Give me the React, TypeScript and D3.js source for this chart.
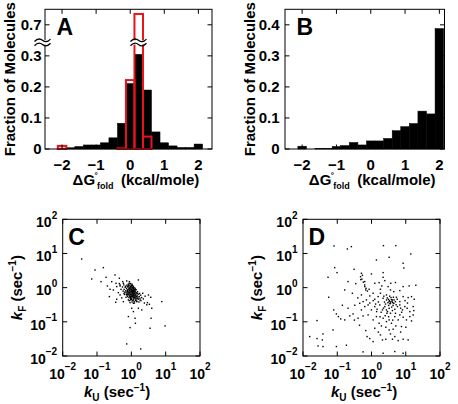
import React from "react";
import * as d3 from "d3";

// ---------- DATA ----------
const binCenters = [-2, -1.75, -1.5, -1.25, -1, -0.75, -0.5, -0.25, 0, 0.25, 0.5, 0.75, 1, 1.25, 1.5, 1.75, 2];
const binHalf = 0.125;
const fracA_all = [0.003, 0.004, 0.008, 0.013, 0.013, 0.02, 0.036, 0.083, 0.211, 0.305, 0.19, 0.055, 0.02, 0.01, 0.005, 0.005, 0.016];
const fracA_red = [0.01, 0, 0, 0, 0, 0, 0, 0.002, 0.222, 0.735, 0.04, 0, 0, 0, 0, 0, 0];
const fracB = [0.009, 0, 0.002, 0.002, 0.008, 0.011, 0.021, 0.013, 0.026, 0.026, 0.034, 0.059, 0.072, 0.082, 0.122, 0.113, 0.388];
const histXTicks = [-2, -1, 0, 1, 2];
const yTicksA = [0, 0.1, 0.2, 0.3, 0.7];
const yTicksALabels = ["0", "0.1", "0.2", "0.3", "0.7"];
const yTicksB = [0, 0.1, 0.2, 0.3, 0.4];
const yTicksBLabels = ["0", "0.1", "0.2", "0.3", "0.4"];
const logTickExps = [-2, -1, 0, 1, 2];

// scatter points: [log10 kU, log10 kF]
const pointsC: [number, number][] = [
  [-1.447, 0.839], [-1.058, 0.517], [-0.815, 0.585], [-1.155, 0.254], [-0.737, 0.303], [-0.883, 0.176],
  [-0.475, 0.371], [-0.572, 0.176], [-0.349, 0.274], [-0.252, 0.176], [-0.446, 0.127], [-0.135, 0.196],
  [-0.057, 0.176], [0.205, 0.225], [-0.698, 0.049], [-0.621, -0.048], [-0.524, -0.068], [-0.426, 0.03],
  [-0.329, 0.079], [-0.232, 0.127], [-0.64, -0.262], [-0.378, -0.146], [-0.329, -0.214], [-0.426, -0.34],
  [-0.456, -0.428], [-0.232, -0.409], [-0.213, -0.165], [-0.154, -0.282], [-0.086, -0.36], [-0.038, -0.438],
  [0.06, -0.457], [0.157, -0.409], [0.254, -0.36], [0.332, -0.165], [0.497, -0.214], [0.565, -0.282],
  [0.468, -0.438], [0.526, -0.487], [0.594, -0.603], [0.886, -0.409], [0.983, -1.12], [0.575, -0.896],
  [0.545, -1.188], [0.108, -0.896], [0.118, -1.042], [-0.038, -1.169], [-0.086, -0.847], [0.011, -0.603],
  [0.06, -0.701], [0.205, -0.603], [0.303, -0.652], [-0.135, -1.647], [0.273, -1.793], [-0.329, 0.049],
  [-0.12, 0.02], [-0.08, 0.05], [-0.05, -0.02], [-0.02, 0.04], [0.01, -0.05], [0.04, 0.01], [0.07, -0.08],
  [-0.1, -0.06], [-0.06, -0.1], [-0.03, -0.13], [0.0, -0.09], [0.03, -0.15], [0.06, -0.12], [0.09, -0.18],
  [-0.14, -0.03], [-0.11, -0.12], [-0.07, -0.16], [-0.04, -0.2], [-0.01, -0.17], [0.02, -0.22], [0.05, -0.19],
  [0.08, -0.25], [0.11, -0.21], [0.13, -0.28], [-0.09, -0.21], [-0.05, -0.25], [-0.02, -0.28], [0.01, -0.31],
  [0.04, -0.27], [0.07, -0.33], [0.1, -0.3], [0.14, -0.36], [-0.16, -0.09], [-0.18, 0.01], [-0.13, 0.07],
  [-0.09, 0.1], [-0.04, 0.08], [0.0, 0.03], [0.03, 0.06], [0.06, -0.03], [0.09, -0.05], [0.12, -0.1],
  [0.15, -0.15], [0.17, -0.22], [0.19, -0.27], [0.16, -0.31], [0.12, -0.38], [0.08, -0.41], [0.04, -0.37],
  [0.0, -0.35], [-0.03, -0.32], [-0.07, -0.29], [-0.11, -0.26], [-0.15, -0.19], [-0.19, -0.13], [-0.21, -0.05],
  [-0.17, 0.04], [-0.02, 0.12], [0.02, 0.1], [-0.06, 0.13], [0.05, -0.01], [0.08, -0.14], [-0.01, -0.07],
  [-0.03, -0.04], [0.02, -0.11], [0.05, -0.06], [-0.08, -0.01], [-0.12, -0.16], [0.1, -0.24], [0.06, -0.29],
  [-0.04, -0.23], [0.13, -0.19], [0.18, -0.12], [0.21, -0.19], [0.23, -0.26], [0.2, -0.34], [0.25, -0.31],
  [0.27, -0.22], [-0.24, -0.1], [-0.2, -0.2], [-0.26, 0.02], [-0.22, 0.08], [0.11, -0.02], [0.14, -0.06],
  [0.16, -0.4], [0.09, -0.45], [0.02, -0.42], [-0.06, -0.38], [0.22, -0.42], [0.28, -0.38], [0.3, -0.29],
  [-0.01, 0.0], [0.0, -0.13], [-0.05, -0.08], [0.03, -0.18], [0.07, -0.21], [0.04, -0.24], [-0.09, -0.13],
  [0.1, -0.12], [-0.13, -0.22], [0.01, -0.26], [-0.1, 0.04], [0.06, 0.04], [-0.07, -0.05], [0.12, -0.33],
  [0.15, -0.26], [-0.02, -0.2], [0.08, -0.08],
  [-0.06, -0.15], [-0.01, -0.11], [0.03, -0.09], [0.07, -0.17], [0.11, -0.15], [-0.08, -0.19], [-0.03, -0.27],
  [0.02, -0.02], [0.05, -0.23], [0.09, -0.28], [-0.11, -0.08], [-0.04, 0.01], [0.0, -0.21], [0.04, -0.12],
  [0.08, 0.0], [-0.15, -0.13], [0.13, -0.24], [0.17, -0.17], [-0.02, -0.36], [0.06, -0.36], [0.19, -0.31],
  [-0.07, 0.06], [0.01, 0.07], [0.11, -0.06], [-0.12, -0.2], [0.24, -0.17], [0.35, -0.33], [0.4, -0.25],
  [0.38, -0.45], [-0.3, -0.05], [-0.35, 0.12], [0.45, -0.5], [-0.28, -0.3],
];

const pointsD: [number, number][] = [
  [-1.094, 1.22], [-0.704, 1.132], [-0.587, 1.2], [0.349, 1.229], [0.71, 1.229], [1.148, 0.986],
  [0.144, 0.81], [0.515, 0.888], [0.924, 0.713], [0.943, 0.576], [-1.074, 0.586], [-1.006, 0.44],
  [-0.509, 0.537], [-0.294, 0.42], [-0.265, 0.362], [-0.002, 0.401], [0.339, 0.44], [0.339, 0.303],
  [-1.269, 0.303], [-0.684, 0.177], [-0.46, 0.118], [-0.314, 0.235], [-0.197, 0.177], [-0.197, 0.031],
  [-0.168, -0.067], [-0.07, -0.047], [0.096, 0.128], [0.222, 0.147], [0.261, -0.047], [0.388, 0.206],
  [0.485, 0.031], [0.563, 0.128], [0.554, -0.067], [0.651, -0.116], [0.827, -0.086], [0.924, 0.031],
  [1.099, 0.05], [1.294, 0.07], [-0.782, -0.067], [-0.558, -0.164], [-1.25, -0.281], [-0.294, -0.213],
  [-0.246, -0.408], [-0.148, -0.359], [-0.051, -0.242], [0.047, -0.164], [0.096, -0.34], [0.193, -0.262],
  [0.261, -0.164], [0.339, -0.311], [0.437, -0.213], [0.495, -0.34], [0.515, -0.408], [0.554, -0.457],
  [0.612, -0.359], [0.651, -0.457], [0.729, -0.281], [0.827, -0.408], [0.924, -0.262], [1.07, -0.291],
  [1.168, -0.262], [1.246, -0.34], [-0.85, -0.515], [-0.684, -0.603], [-0.489, -0.515], [-0.343, -0.457],
  [-0.294, -0.652], [-0.197, -0.554], [-0.099, -0.506], [-0.002, -0.652], [0.096, -0.554], [0.164, -0.632],
  [0.242, -0.506], [0.32, -0.652], [0.388, -0.554], [0.437, -0.652], [0.466, -0.701], [0.515, -0.603],
  [0.554, -0.749], [0.612, -0.671], [0.68, -0.632], [0.758, -0.554], [0.827, -0.506], [0.904, -0.652],
  [0.973, -0.554], [1.041, -0.603], [1.119, -0.701], [1.216, -0.554], [1.236, -0.671], [-1.103, -0.652],
  [-1.025, -0.769], [-0.967, -0.847], [-0.899, -0.915], [-0.782, -0.944], [-1.591, -0.964], [-0.635, -0.827],
  [-0.538, -0.769], [-0.392, -0.895], [-0.246, -0.827], [-0.099, -0.798], [0.047, -0.944], [0.144, -0.847],
  [0.222, -1.042], [0.339, -0.895], [0.437, -0.993], [0.515, -0.944], [0.583, -1.042], [0.68, -0.847],
  [0.778, -0.944], [0.827, -0.798], [0.924, -0.866], [1.021, -0.944], [1.119, -0.847], [1.168, -0.973],
  [1.216, -0.798], [0.096, -1.188], [0.29, -1.12], [0.417, -1.159], [0.515, -1.237], [0.632, -1.217],
  [0.71, -1.12], [0.875, -1.139], [1.002, -1.159], [-1.123, -1.237], [-1.415, -1.354], [0.261, -1.383],
  [0.554, -1.354], [0.68, -1.432], [-0.168, -1.256], [-0.129, -1.432], [-0.051, -1.49], [0.047, -1.578],
  [0.32, -1.529], [0.417, -1.51], [0.612, -1.51], [0.778, -1.549], [0.924, -1.51], [1.07, -1.529],
  [-1.805, -1.432], [-1.591, -1.49], [-1.435, -1.529], [-0.733, -1.685], [-0.246, -1.88], [0.339, -1.919],
  [0.68, -1.87], [0.924, -1.919], [-1.561, -1.705], [-1.415, -1.724], [-1.025, -1.724],
  [0.52, -0.38], [0.56, -0.42], [0.6, -0.4], [0.54, -0.47], [0.58, -0.35], [0.62, -0.44],
  [-0.32, 0.32], [-0.28, 0.25], [-0.24, 0.16], [-0.2, 0.08], [-0.16, -0.02], [-0.12, -0.1],
  [0.35, -0.6], [0.45, -0.75], [0.5, -0.85], [0.28, -0.72], [0.4, -0.82],
  [0.46, -0.3], [0.5, -0.52], [0.57, -0.29], [0.63, -0.52], [0.66, -0.36], [0.48, -0.44], [0.44, -0.36],
  [0.7, -0.41], [0.53, -0.25], [0.59, -0.57], [0.38, -0.42], [0.72, -0.5], [0.41, -0.48], [0.64, -0.28],
  [0.75, -0.34], [0.36, -0.25], [0.85, -0.6], [0.2, -0.42], [0.12, -0.48], [0.05, -0.38], [-0.05, -0.45],
  [0.25, -0.85], [0.62, -0.95], [0.88, -0.72], [1.05, -0.45], [0.98, -0.38], [0.15, -0.7], [0.7, -0.75],
  [-0.4, -0.3], [-0.5, -0.95], [0.3, 0.05], [0.7, 0.15], [-0.35, -1.1], [0.2, -1.3], [0.85, -1.3],
];

// ---------- LAYOUT ----------
const FONT = "'Liberation Sans', Arial, Helvetica, sans-serif";
const TICK = 4.5;

const histTop = 9.3;
const histBottom = 149;
const xA = d3.scaleLinear().domain([-2.5, 2.4]).range([45, 212]);
const xB = d3.scaleLinear().domain([-2.5, 2.15]).range([285, 444.5]);
const yLow = d3.scaleLinear().domain([0, 0.45]).range([histBottom, histTop]);
const yHighA = d3.scaleLinear().domain([0.7, 0.75]).range([24.8, histTop]);
const yA = (v: number) => (v < 0.5 ? yLow(v) : yHighA(v));

const scTop = 219.3;
const scBottom = 356;
const xC = d3.scaleLog().domain([0.01, 100]).range([62.7, 200]);
const xD = d3.scaleLog().domain([0.01, 100]).range([303, 440]);
const yS = d3.scaleLog().domain([0.01, 100]).range([scBottom, scTop]);

const minus = (n: number) => (n < 0 ? "\u2212" + Math.abs(n) : String(n));

function wave(x: number, y: number, w: number) {
  return `M${x},${y + 1.2} Q${x + w / 4},${y - 3.2} ${x + w / 2},${y} Q${x + (3 * w) / 4},${y + 3.2} ${x + w},${y - 1.2}`;
}

function Frame({ x0, x1, y0, y1 }: { x0: number; x1: number; y0: number; y1: number }) {
  return <rect x={x0} y={y0} width={x1 - x0} height={y1 - y0} fill="none" stroke="#000" strokeWidth={1} />;
}

function HistXLabel({ start, y }: { start: number; y: number }) {
  return (
    <g fontFamily={FONT} fontWeight="bold" fill="#000">
      <text x={start} y={y} fontSize={15}>Δ</text>
      <text x={start + 11} y={y} fontSize={15}>G</text>
      <text x={start + 22} y={y - 7} fontSize={8}>°</text>
      <text x={start + 24.5} y={y + 4} fontSize={9}>fold</text>
      <text x={start + 48.5} y={y} fontSize={15}>(kcal/mole)</text>
    </g>
  );
}

function RateLabel({ sub }: { sub: string }) {
  return (
    <>
      <tspan fontStyle="italic" fontSize={15}>k</tspan>
      <tspan fontSize={10} dy={4}>{sub}</tspan>
      <tspan fontSize={15} dy={-4}>{" (sec"}</tspan>
      <tspan fontSize={10} dy={-6}>{"\u22121"}</tspan>
      <tspan fontSize={15} dy={6}>)</tspan>
    </>
  );
}

function HistPanel({ which }: { which: "A" | "B" }) {
  const x = which === "A" ? xA : xB;
  const y = which === "A" ? yA : yLow;
  const vals = which === "A" ? fracA_all : fracB;
  const ticks = which === "A" ? yTicksA : yTicksB;
  const tickLabels = which === "A" ? yTicksALabels : yTicksBLabels;
  const [x0, x1] = x.range();
  const labelRight = which === "A" ? x0 - 3.5 : x0 - 5.5;
  const cx = (x0 + x1) / 2;
  return (
    <g>
      {binCenters.map((c, i) =>
        vals[i] > 0 ? (
          <rect
            key={i}
            x={x(c - binHalf)}
            y={y(vals[i])}
            width={x(c + binHalf) - x(c - binHalf)}
            height={y(0) - y(vals[i])}
            fill="#000"
            stroke="#000"
            strokeWidth={0.5}
          />
        ) : null
      )}
      {which === "A" &&
        binCenters.map((c, i) => (
          <rect
            key={"r" + i}
            x={x(c - binHalf)}
            y={yA(fracA_red[i])}
            width={x(c + binHalf) - x(c - binHalf)}
            height={yA(0) - yA(fracA_red[i])}
            fill="none"
            stroke="#e8141c"
            strokeWidth={2}
          />
        ))}
      <Frame x0={x0} x1={x1} y0={histTop} y1={histBottom} />
      {histXTicks.map((t) => (
        <g key={t}>
          <line x1={x(t)} x2={x(t)} y1={histBottom} y2={histBottom - TICK} stroke="#000" />
          <line x1={x(t)} x2={x(t)} y1={histTop} y2={histTop + TICK} stroke="#000" />
          <text x={x(t)} y={169.5} textAnchor="middle" fontFamily={FONT} fontWeight="bold" fontSize={15}>
            {minus(t)}
          </text>
        </g>
      ))}
      {ticks.map((t, i) => (
        <g key={t}>
          <line x1={x0} x2={x0 + TICK} y1={y(t)} y2={y(t)} stroke="#000" />
          <line x1={x1} x2={x1 - TICK} y1={y(t)} y2={y(t)} stroke="#000" />
          <text x={labelRight} y={y(t) + 5.4} textAnchor="end" fontFamily={FONT} fontWeight="bold" fontSize={15}>
            {tickLabels[i]}
          </text>
        </g>
      ))}
      {which === "A" && (
        <g>
          <rect x={34} y={40.3} width={18} height={4.2} fill="#fff" />
          <path d={wave(34.5, 40.3, 16)} fill="none" stroke="#000" strokeWidth={1.3} />
          <path d={wave(34.5, 44.5, 16)} fill="none" stroke="#000" strokeWidth={1.3} />
          <rect x={x(0.125) - 3} y={40.3} width={x(0.375) - x(0.125) + 6} height={4.2} fill="#fff" />
          <path d={wave(x(0.125) - 4, 40.3, 16)} fill="none" stroke="#000" strokeWidth={1.3} />
          <path d={wave(x(0.125) - 4, 44.5, 16)} fill="none" stroke="#000" strokeWidth={1.3} />
        </g>
      )}
      <text x={x0 + 11.5} y={35} fontFamily={FONT} fontWeight="bold" fontSize={23}>
        {which}
      </text>
      <text
        transform={`translate(${x0 - 30},${(histTop + histBottom) / 2}) rotate(-90)`}
        textAnchor="middle"
        fontFamily={FONT}
        fontWeight="bold"
        fontSize={15}
      >
        Fraction of Molecules
      </text>
      <HistXLabel start={cx + 9 - 65} y={185} />
    </g>
  );
}

function ScatterPanel({ which }: { which: "C" | "D" }) {
  const x = which === "C" ? xC : xD;
  const pts = which === "C" ? pointsC : pointsD;
  const [x0, x1] = x.range();
  const xLabelStart = which === "C" ? 84 : 331;
  return (
    <g>
      {pts.map(([lu, lf], i) => (
        <rect key={i} x={x(Math.pow(10, lu)) - 0.7} y={yS(Math.pow(10, lf)) - 0.7} width={1.4} height={1.4} fill="#000" />
      ))}
      <Frame x0={x0} x1={x1} y0={scTop} y1={scBottom} />
      {logTickExps.map((e) => {
        const v = Math.pow(10, e);
        return (
          <g key={e}>
            <line x1={x(v)} x2={x(v)} y1={scBottom} y2={scBottom - TICK} stroke="#000" />
            <line x1={x(v)} x2={x(v)} y1={scTop} y2={scTop + TICK} stroke="#000" />
            <line x1={x0} x2={x0 + TICK} y1={yS(v)} y2={yS(v)} stroke="#000" />
            <line x1={x1} x2={x1 - TICK} y1={yS(v)} y2={yS(v)} stroke="#000" />
            <text x={x(v)} y={378.5} textAnchor="middle" fontFamily={FONT} fontWeight="bold" fontSize={14}>
              10<tspan fontSize={10} dy={-8.5}>{minus(e)}</tspan>
            </text>
            <text x={x0 - 5.5} y={yS(v) + 7.7} textAnchor="end" fontFamily={FONT} fontWeight="bold" fontSize={14}>
              10<tspan fontSize={10} dy={-8.5}>{minus(e)}</tspan>
            </text>
          </g>
        );
      })}
      <text x={x0 + 5.5} y={245} fontFamily={FONT} fontWeight="bold" fontSize={23}>
        {which}
      </text>
      <text
        transform={`translate(${x0 - 41},${(scTop + scBottom) / 2}) rotate(-90)`}
        textAnchor="middle"
        fontFamily={FONT}
        fontWeight="bold"
      >
        <RateLabel sub="F" />
      </text>
      <text x={xLabelStart} y={397} fontFamily={FONT} fontWeight="bold">
        <RateLabel sub="U" />
      </text>
    </g>
  );
}

export default function App() {
  return (
    <svg
      width={458}
      height={404}
      viewBox="0 0 458 404"
      style={{ position: "absolute", left: 0, top: 0, background: "#fff" }}
    >
      <rect width={458} height={404} fill="#fff" />
      <HistPanel which="A" />
      <HistPanel which="B" />
      <ScatterPanel which="C" />
      <ScatterPanel which="D" />
    </svg>
  );
}
